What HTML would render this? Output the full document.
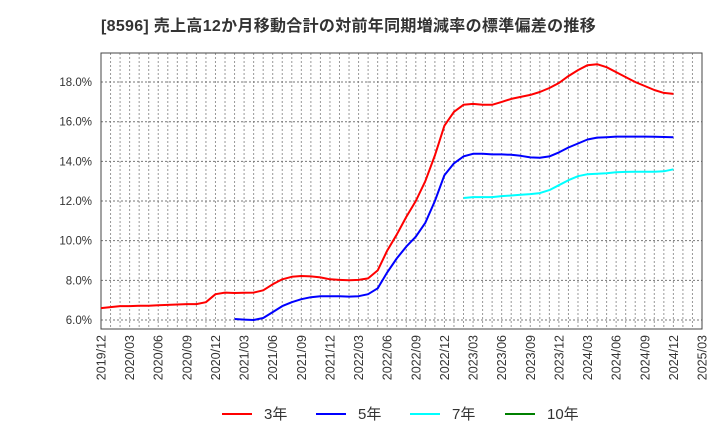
<!DOCTYPE html>
<html><head><meta charset="utf-8"><style>
body{margin:0;background:#fff;}
svg text{font-family:"Liberation Sans","Noto Sans CJK JP",sans-serif;}
</style></head><body>
<svg id="c" width="720" height="440" xmlns="http://www.w3.org/2000/svg">
<text x="101" y="31" font-size="16" font-weight="bold" fill="#333" letter-spacing="0.3">[8596]  売上高12か月移動合計の対前年同期増減率の標準偏差の推移</text>
<g id="grid"></g>
<rect x="101" y="53" width="601" height="276" fill="none" stroke="#444" stroke-width="1"/>
<g id="series"></g>
<g id="axes"></g>
<g id="legend"></g>
</svg>
<script>
const yTicks=[6,8,10,12,14,16,18];
const xLabels=["2019/12","2020/03","2020/06","2020/09","2020/12","2021/03","2021/06","2021/09","2021/12","2022/03","2022/06","2022/09","2022/12","2023/03","2023/06","2023/09","2023/12","2024/03","2024/06","2024/09","2024/12","2025/03"];
const red3=[6.6,6.65,6.7,6.7,6.72,6.72,6.74,6.76,6.78,6.8,6.8,6.9,7.3,7.38,7.36,7.37,7.38,7.5,7.8,8.05,8.18,8.22,8.2,8.15,8.05,8.02,8.0,8.02,8.1,8.5,9.5,10.3,11.2,12.0,13.0,14.3,15.8,16.5,16.85,16.9,16.85,16.85,17.0,17.15,17.25,17.35,17.5,17.7,17.95,18.3,18.6,18.85,18.9,18.75,18.5,18.25,18.0,17.8,17.6,17.45,17.4];
const blue5=[6.05,6.02,6.0,6.1,6.4,6.7,6.9,7.05,7.15,7.2,7.2,7.2,7.18,7.2,7.3,7.6,8.4,9.1,9.7,10.2,10.9,12.0,13.3,13.9,14.25,14.38,14.38,14.35,14.35,14.33,14.28,14.2,14.18,14.25,14.45,14.7,14.9,15.1,15.2,15.22,15.25,15.25,15.25,15.25,15.24,15.23,15.22];
const cyan7=[12.15,12.2,12.2,12.2,12.25,12.28,12.32,12.35,12.4,12.55,12.8,13.05,13.25,13.35,13.38,13.4,13.45,13.47,13.48,13.48,13.48,13.5,13.6];
const green10=[];
const startRed=0,startBlue=14,startCyan=38,startGreen=0;
const NS="http://www.w3.org/2000/svg";
const X0=101,X1=702,Y0=53,Y1=329,months=63;
function xs(m){return X0+(X1-X0)*m/months;}
function ys(v){return 320-(v-6)*19.83;}
function mk(t,a,p){const e=document.createElementNS(NS,t);for(const k in a)e.setAttribute(k,a[k]);p.appendChild(e);return e;}
const grid=document.getElementById('grid'),axes=document.getElementById('axes'),ser=document.getElementById('series'),leg=document.getElementById('legend');
for(let m=1;m<months;m++){const l=mk('line',{x1:xs(m),x2:xs(m),y1:Y0,y2:Y1,stroke:'#999','stroke-dasharray':'2,2','stroke-width':1},grid);

}
yTicks.forEach(v=>{const l=mk('line',{x1:X0,x2:X1,y1:ys(v),y2:ys(v),stroke:'#777','stroke-dasharray':'2,2','stroke-width':1},grid);


const t=mk('text',{x:92,y:ys(v)+4,'text-anchor':'end','font-size':11.5,fill:'#333'},axes);t.textContent=v.toFixed(1)+'%';

});
xLabels.forEach((s,i)=>{const x=xs(i*3);const t=mk('text',{x:0,y:0,'text-anchor':'end','font-size':12.5,fill:'#333',transform:`translate(${x+4.5},335) rotate(-90)`},axes);t.textContent=s;

});
function line(arr,start,col,name){if(!arr.length)return;const d=arr.map((v,i)=>(i?'L':'M')+xs(start+i).toFixed(1)+' '+ys(v).toFixed(1)).join(' ');
const p=mk('path',{d:d,fill:'none',stroke:col,'stroke-width':2,'stroke-linejoin':'round'},ser);

}
line(red3,startRed,'#ff0000','series-3yr');
line(blue5,startBlue,'#0000ff','series-5yr');
line(cyan7,startCyan,'#00ffff','series-7yr');
line(green10,startGreen,'#008000','series-10yr');
[['3年','#ff0000',222],['5年','#0000ff',316],['7年','#00ffff',410],['10年','#008000',505]].forEach(e=>{
const g=mk('g',{},leg);


mk('line',{x1:e[2],x2:e[2]+30,y1:414,y2:414,stroke:e[1],'stroke-width':2},g);
const t=mk('text',{x:e[2]+42,y:419,'font-size':15,fill:'#333'},g);t.textContent=e[0];});
</script>
</body></html>
